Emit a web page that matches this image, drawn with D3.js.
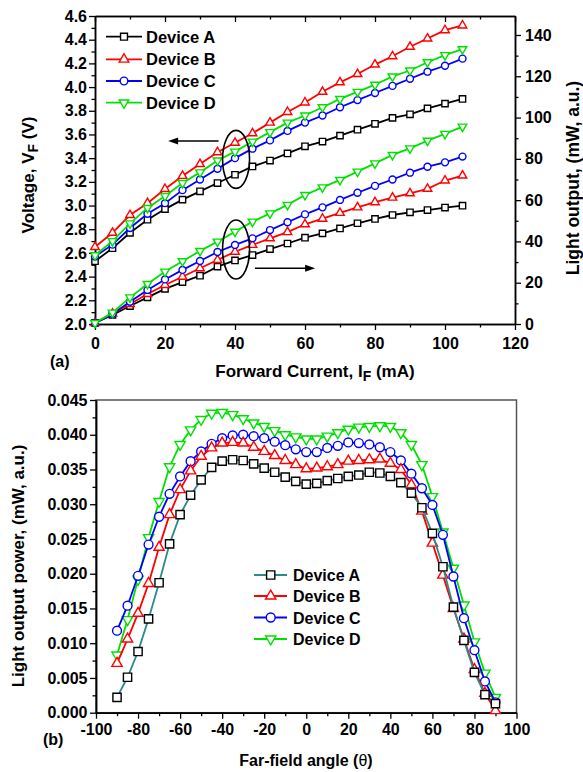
<!DOCTYPE html>
<html>
<head>
<meta charset="utf-8">
<script src="https://cdn.jsdelivr.net/npm/d3@7"></script>
<style>
  body { margin: 0; background: #fff; }
  svg text { font-family: Arial, "Liberation Sans", sans-serif; font-weight: bold; fill: #000; }
</style>
</head>
<body>
<script>
// ---------- (a) forward current sweep ----------
var currents = [0, 5, 10, 15, 20, 25, 30, 35, 40, 45, 50, 55, 60, 65, 70, 75, 80, 85, 90, 95, 100, 105];

var voltA = [2.53, 2.64, 2.77, 2.88, 2.97, 3.05, 3.12, 3.19, 3.26, 3.33, 3.38, 3.44, 3.50, 3.54, 3.59, 3.64, 3.69, 3.74, 3.77, 3.82, 3.86, 3.90];
var voltB = [2.65, 2.77, 2.92, 3.02, 3.14, 3.25, 3.35, 3.45, 3.53, 3.61, 3.70, 3.79, 3.87, 3.96, 4.04, 4.11, 4.19, 4.26, 4.34, 4.41, 4.48, 4.52];
var voltC = [2.57, 2.67, 2.81, 2.93, 3.02, 3.13, 3.22, 3.31, 3.40, 3.48, 3.55, 3.63, 3.70, 3.76, 3.83, 3.89, 3.95, 4.01, 4.07, 4.13, 4.18, 4.24];
var voltD = [2.58, 2.70, 2.85, 2.98, 3.08, 3.19, 3.28, 3.38, 3.455, 3.54, 3.62, 3.70, 3.76, 3.83, 3.90, 3.96, 4.02, 4.09, 4.14, 4.21, 4.27, 4.32];

var lightA = [0.5, 4.4, 8.7, 12.9, 17.0, 20.3, 23.4, 27.8, 30.8, 33.4, 36.3, 39.0, 41.8, 43.9, 46.3, 48.8, 50.9, 52.8, 54.1, 55.2, 56.4, 57.3];
var lightB = [0.5, 5.0, 9.7, 14.5, 18.9, 22.9, 27.0, 31.0, 35.0, 38.3, 41.5, 44.5, 48.3, 51.0, 53.8, 56.5, 59.0, 61.2, 63.3, 65.5, 69.5, 71.9];
var lightC = [0.5, 4.8, 10.8, 16.5, 21.6, 26.2, 30.5, 34.9, 38.3, 41.5, 45.5, 49.3, 53.1, 56.5, 60.1, 63.6, 66.9, 70.0, 73.3, 76.2, 78.3, 81.1];
var lightD = [0.5, 5.5, 12.9, 19.4, 25.4, 30.4, 35.4, 39.9, 44.7, 49.6, 53.6, 57.7, 62.5, 66.2, 69.8, 73.8, 77.8, 81.9, 85.1, 88.8, 92.1, 95.6];

var currentTicks = [0, 20, 40, 60, 80, 100, 120];
var currentMinor = [10, 30, 50, 70, 90, 110];
var voltTicks = [2.0, 2.2, 2.4, 2.6, 2.8, 3.0, 3.2, 3.4, 3.6, 3.8, 4.0, 4.2, 4.4, 4.6];
var voltTickLabels = ["2.0", "2.2", "2.4", "2.6", "2.8", "3.0", "3.2", "3.4", "3.6", "3.8", "4.0", "4.2", "4.4", "4.6"];
var voltMinor = [2.1, 2.3, 2.5, 2.7, 2.9, 3.1, 3.3, 3.5, 3.7, 3.9, 4.1, 4.3, 4.5];
var lightTicks = [0, 20, 40, 60, 80, 100, 120, 140];
var lightMinor = [10, 30, 50, 70, 90, 110, 130];

// ---------- (b) far-field pattern ----------
var angles = [-90, -85, -80, -75, -70, -65, -60, -55, -50, -45, -40, -35, -30, -25, -20, -15, -10, -5, 0,
              5, 10, 15, 20, 25, 30, 35, 40, 45, 50, 55, 60, 65, 70, 75, 80, 85, 90];

var farA = [0.0022, 0.0051, 0.0088, 0.0135, 0.0187, 0.0243, 0.0285, 0.0313, 0.0335, 0.0353, 0.0362, 0.0364, 0.0363, 0.0358, 0.0352, 0.0346, 0.0339, 0.0333, 0.0329,
            0.0330, 0.0334, 0.0337, 0.0340, 0.0342, 0.0346, 0.0345, 0.0340, 0.0331, 0.0316, 0.0295, 0.0258, 0.0210, 0.0152, 0.0104, 0.0058, 0.0026, 0.0013];
var farB = [0.0071, 0.0106, 0.0143, 0.0186, 0.0238, 0.0285, 0.0321, 0.0348, 0.0369, 0.0381, 0.0388, 0.0389, 0.0388, 0.0382, 0.0376, 0.0370, 0.0363, 0.0357, 0.0351,
            0.0352, 0.0354, 0.0357, 0.0362, 0.0363, 0.0364, 0.0365, 0.0359, 0.0350, 0.0328, 0.0290, 0.0244, 0.0198, 0.0150, 0.0106, 0.0062, 0.0028, 0.0003];
var farC = [0.0118, 0.0154, 0.0197, 0.0242, 0.0282, 0.0315, 0.0340, 0.0362, 0.0376, 0.0387, 0.0395, 0.0399, 0.0400, 0.0398, 0.0395, 0.0390, 0.0385, 0.0379, 0.0375,
            0.0375, 0.0381, 0.0384, 0.0389, 0.0388, 0.0386, 0.0382, 0.0375, 0.0363, 0.0344, 0.0323, 0.0299, 0.0256, 0.0196, 0.0136, 0.0090, 0.0045, 0.0015];
var farD = [0.0083, 0.0134, 0.0192, 0.0252, 0.0304, 0.0354, 0.0386, 0.0407, 0.0422, 0.0431, 0.0432, 0.0429, 0.0423, 0.0417, 0.0412, 0.0406, 0.0400, 0.0397, 0.0394,
            0.0394, 0.0398, 0.0403, 0.0408, 0.0411, 0.0412, 0.0413, 0.0412, 0.0403, 0.0386, 0.0357, 0.0311, 0.0260, 0.0208, 0.0155, 0.0102, 0.0057, 0.0022];

var angleTicks = [-100, -80, -60, -40, -20, 0, 20, 40, 60, 80, 100];
var angleTickLabels = ["-100", "-80", "-60", "-40", "-20", "0", "20", "40", "60", "80", "100"];
var angleMinor = [-90, -70, -50, -30, -10, 10, 30, 50, 70, 90];
var powerTicks = [0, 0.005, 0.010, 0.015, 0.020, 0.025, 0.030, 0.035, 0.040, 0.045];
var powerTickLabels = ["0.000", "0.005", "0.010", "0.015", "0.020", "0.025", "0.030", "0.035", "0.040", "0.045"];
var powerMinor = [0.0025, 0.0075, 0.0125, 0.0175, 0.0225, 0.0275, 0.0325, 0.0375, 0.0425];

var devices = ["Device A", "Device B", "Device C", "Device D"];

// styles
var colorsTop = ["#000000", "#ff0000", "#0000ff", "#00e000"];
var lineColorsBot = ["#2b8b8b", "#ff0000", "#0000ff", "#00e000"];
var markColorsBot = ["#000000", "#ff0000", "#0000ff", "#00e000"];
var shapes = [d3.symbolSquare, d3.symbolTriangle, d3.symbolCircle, d3.symbolTriangle];
var rotations = [0, 0, 0, 180];
var sizesTop = [40, 32, 38, 32];
var sizesBot = [68, 46, 62, 46];

var svg = d3.select("body").append("svg")
  .attr("width", 583)
  .attr("height", 772);

function drawMarker(g, i, x, y, size, color) {
  g.append("path")
    .attr("d", d3.symbol().type(shapes[i]).size(size)())
    .attr("transform", `translate(${x},${y}) rotate(${rotations[i]})`)
    .attr("fill", "white")
    .attr("stroke", color)
    .attr("stroke-width", 1.4);
}

function styleAxis(g, color) {
  g.select(".domain").attr("stroke", color).attr("stroke-width", 1.5);
  g.selectAll(".tick line").attr("stroke", color).attr("stroke-width", 1.3);
  g.selectAll(".tick text").attr("font-size", 16).attr("fill", "#000");
  return g;
}

function drawSeries(g, xs, ys, xScale, yScale, i, lineColor, markColor, size) {
  var pts = xs.map(function(x, k) { return [xScale(x), yScale(ys[k])]; });
  g.append("path")
    .attr("d", d3.line()(pts))
    .attr("fill", "none")
    .attr("stroke", lineColor)
    .attr("stroke-width", 1.8);
  pts.forEach(function(p) { drawMarker(g, i, p[0], p[1], size, markColor); });
}

// ================= chart (a) =================
var xA = d3.scaleLinear().domain([0, 120]).range([95, 515]);
var yV = d3.scaleLinear().domain([2.0, 4.6]).range([324, 16]);
var yL = d3.scaleLinear().domain([0, 149.2]).range([324, 16]);

var gA = svg.append("g");

// bottom axis
styleAxis(gA.append("g").attr("transform", "translate(0,324)")
  .call(d3.axisBottom(xA).tickValues(currentTicks).tickSize(6).tickSizeOuter(0).tickPadding(8)), "#000");
styleAxis(gA.append("g").attr("transform", "translate(0,324)")
  .call(d3.axisBottom(xA).tickValues(currentMinor).tickSize(3.5).tickSizeOuter(0).tickFormat("")), "#000");
// top border, ticks pointing inward
styleAxis(gA.append("g").attr("transform", "translate(0,16)")
  .call(d3.axisBottom(xA).tickValues(currentTicks).tickSize(6).tickSizeOuter(0).tickFormat("")), "#000");
styleAxis(gA.append("g").attr("transform", "translate(0,16)")
  .call(d3.axisBottom(xA).tickValues(currentMinor).tickSize(3.5).tickSizeOuter(0).tickFormat("")), "#000");
// left voltage axis
styleAxis(gA.append("g").attr("transform", "translate(95,0)")
  .call(d3.axisLeft(yV).tickValues(voltTicks).tickSize(6).tickSizeOuter(0).tickPadding(2)
    .tickFormat(function(d, i) { return voltTickLabels[i]; })), "#000");
styleAxis(gA.append("g").attr("transform", "translate(95,0)")
  .call(d3.axisLeft(yV).tickValues(voltMinor).tickSize(3.5).tickSizeOuter(0).tickFormat("")), "#000");
// right light axis
styleAxis(gA.append("g").attr("transform", "translate(515,0)")
  .call(d3.axisRight(yL).tickValues(lightTicks).tickSize(6).tickSizeOuter(0).tickPadding(4)), "#000");
styleAxis(gA.append("g").attr("transform", "translate(515,0)")
  .call(d3.axisRight(yL).tickValues(lightMinor).tickSize(3.5).tickSizeOuter(0).tickFormat("")), "#000");

var voltSeries = [voltA, voltB, voltC, voltD];
var lightSeries = [lightA, lightB, lightC, lightD];
for (var i = 0; i < 4; i++) {
  drawSeries(gA, currents, lightSeries[i], xA, yL, i, colorsTop[i], colorsTop[i], sizesTop[i]);
}
for (var i = 0; i < 4; i++) {
  drawSeries(gA, currents, voltSeries[i], xA, yV, i, colorsTop[i], colorsTop[i], sizesTop[i]);
}

// ellipses + arrows pointing at the matching axis
gA.append("ellipse").attr("cx", xA(40.3)).attr("cy", yV(3.39)).attr("rx", 13.5).attr("ry", 29)
  .attr("fill", "none").attr("stroke", "#000").attr("stroke-width", 1.6);
gA.append("ellipse").attr("cx", xA(40.3)).attr("cy", yL(36.1)).attr("rx", 13.5).attr("ry", 29.5)
  .attr("fill", "none").attr("stroke", "#000").attr("stroke-width", 1.6);

function arrow(x1, x2, y) {
  var dir = x2 > x1 ? 1 : -1;
  gA.append("line").attr("x1", x1).attr("x2", x2 - dir * 6).attr("y1", y).attr("y2", y)
    .attr("stroke", "#000").attr("stroke-width", 1.6);
  gA.append("path")
    .attr("d", `M${x2},${y} L${x2 - dir * 10},${y - 3.5} L${x2 - dir * 10},${y + 3.5} Z`)
    .attr("fill", "#000");
}
arrow(xA(35.3), xA(20.9), yV(3.545));
arrow(xA(45.7), xA(62.9), yL(27));

// legend (a)
var legA = [36.7, 59.3, 81, 102.7];
devices.forEach(function(name, i) {
  gA.append("line").attr("x1", 106).attr("x2", 142).attr("y1", legA[i]).attr("y2", legA[i])
    .attr("stroke", colorsTop[i]).attr("stroke-width", 1.8);
  drawMarker(gA, i, 124, legA[i], sizesTop[i] + 8, colorsTop[i]);
  gA.append("text").attr("x", 146).attr("y", legA[i] + 6).attr("font-size", 16.5).text(name);
});

// axis titles (a)
var tV = gA.append("text").attr("transform", "translate(33.5,175) rotate(-90)")
  .attr("text-anchor", "middle").attr("font-size", 17);
tV.append("tspan").text("Voltage, V");
tV.append("tspan").attr("font-size", 14).attr("dy", 4).text("F");
tV.append("tspan").attr("dy", -4).text(" (V)");

gA.append("text").attr("transform", "translate(578.5,178) rotate(-90)")
  .attr("text-anchor", "middle").attr("font-size", 17.5)
  .text("Light output, (mW, a.u.)");

var tI = gA.append("text").attr("x", 315).attr("y", 377)
  .attr("text-anchor", "middle").attr("font-size", 17);
tI.append("tspan").text("Forward Current, I");
tI.append("tspan").attr("font-size", 14).attr("dy", 4).text("F");
tI.append("tspan").attr("dy", -4).text(" (mA)");

gA.append("text").attr("x", 50).attr("y", 367).attr("font-size", 16).text("(a)");

// ================= chart (b) =================
var xB = d3.scaleLinear().domain([-100, 100]).range([96, 516.5]);
var yB = d3.scaleLinear().domain([0, 0.045]).range([712.7, 400]);

var gB = svg.append("g");

// frame top/right in grey
gB.append("rect").attr("x", 96).attr("y", 400).attr("width", 420.5).attr("height", 312.7)
  .attr("fill", "none").attr("stroke", "#555").attr("stroke-width", 1.5);

styleAxis(gB.append("g").attr("transform", "translate(0,712.7)")
  .call(d3.axisBottom(xB).tickValues(angleTicks).tickSize(6).tickSizeOuter(0).tickPadding(5)
    .tickFormat(function(d, i) { return angleTickLabels[i]; })), "#000");
styleAxis(gB.append("g").attr("transform", "translate(0,712.7)")
  .call(d3.axisBottom(xB).tickValues(angleMinor).tickSize(3.5).tickSizeOuter(0).tickFormat("")), "#000");
styleAxis(gB.append("g").attr("transform", "translate(96,0)")
  .call(d3.axisLeft(yB).tickValues(powerTicks).tickSize(6).tickSizeOuter(0).tickPadding(2.5)
    .tickFormat(function(d, i) { return powerTickLabels[i]; })), "#000");
styleAxis(gB.append("g").attr("transform", "translate(96,0)")
  .call(d3.axisLeft(yB).tickValues(powerMinor).tickSize(3.5).tickSizeOuter(0).tickFormat("")), "#000");

var farSeries = [farA, farB, farC, farD];
[3, 2, 1, 0].forEach(function(i) {
  drawSeries(gB, angles, farSeries[i], xB, yB, i, lineColorsBot[i], markColorsBot[i], sizesBot[i]);
});

// legend (b)
var legB = [575, 596, 617.5, 639];
devices.forEach(function(name, i) {
  gB.append("line").attr("x1", 254).attr("x2", 287).attr("y1", legB[i]).attr("y2", legB[i])
    .attr("stroke", lineColorsBot[i]).attr("stroke-width", 1.8);
  drawMarker(gB, i, 270.7, legB[i], sizesBot[i], markColorsBot[i]);
  gB.append("text").attr("x", 293).attr("y", legB[i] + 6).attr("font-size", 16).text(name);
});

gB.append("text").attr("transform", "translate(24,566) rotate(-90)")
  .attr("text-anchor", "middle").attr("font-size", 17)
  .text("Light output power, (mW, a.u.)");

var tTheta = gB.append("text").attr("x", 306).attr("y", 766)
  .attr("text-anchor", "middle").attr("font-size", 16);
tTheta.append("tspan").text("Far-field angle (");
tTheta.append("tspan").attr("font-weight", "normal").text("θ");
tTheta.append("tspan").text(")");

gB.append("text").attr("x", 43).attr("y", 745).attr("font-size", 16).text("(b)");
</script>
</body>
</html>
